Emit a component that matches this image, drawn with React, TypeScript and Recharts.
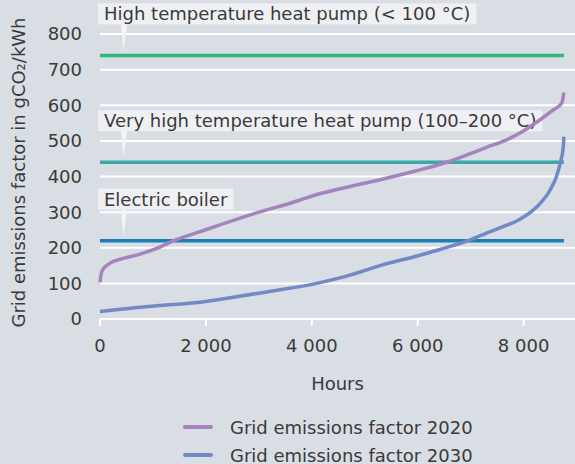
import { useLayoutEffect, useRef, useState } from "react"
import { CartesianGrid, Legend, Line, LineChart, ReferenceLine, XAxis, YAxis } from "recharts"

// hourly grid emission factors, sorted (duration curve)
const hours2020 = [0, 20, 50, 190, 440, 755, 1070, 1380, 1890, 2500, 3000, 3590, 3780, 4020, 4660, 5290, 5920, 6550, 6990, 7300, 7620, 7930, 8250, 8560, 8720, 8760]
const factor2020 = [103, 125, 138, 157, 170, 182, 198, 219, 245, 276, 300, 325, 334, 346, 370, 391, 414, 440, 464, 482, 499, 522, 553, 587, 606, 636]

const hours2030 = [0, 1070, 1890, 2430, 3150, 4090, 4720, 5040, 5290, 5990, 6420, 6990, 7300, 7610, 7930, 8250, 8500, 8620, 8690, 8750, 8760]
const factor2030 = [21, 37, 47, 59, 76, 100, 123, 138, 150, 177, 195, 222, 241, 259, 280, 315, 362, 400, 437, 484, 512]

const seriesNames = ["Grid emissions factor 2020", "Grid emissions factor 2030"]

// break-even emission factors per technology
const technologies = ["High temperature heat pump (< 100 °C)", "Very high temperature heat pump (100–200 °C)", "Electric boiler"]
const thresholds = [740, 440, 220]

const xTicks = [0, 2000, 4000, 6000, 8000]
const yTicks = [0, 100, 200, 300, 400, 500, 600, 700, 800]
const HOURS_IN_YEAR = 8760

const textColor = "#3a3a3a"
const techColors = ["#2fb77a", "#3aa9aa", "#1b7fb6"]
const seriesColors = ["#a583bc", "#7389c5"]
const font = "'DejaVu Sans', 'Open Sans', sans-serif"
const fontSize = 18

const data2020 = hours2020.map((h, i) => ({ h, v: factor2020[i] }))
const data2030 = hours2030.map((h, i) => ({ h, v: factor2030[i] }))

const formatThousands = (v: number) => String(v).replace(/\B(?=(\d{3})+(?!\d))/g, " ")

function ThresholdTag({ viewBox, text }: any) {
  const ref = useRef<SVGTextElement>(null)
  const [w, setW] = useState(0)
  useLayoutEffect(() => {
    if (ref.current) setW(ref.current.getComputedTextLength())
  }, [text])
  if (!viewBox) return null
  const x = viewBox.x
  const y = viewBox.y
  const top = y - 52
  return (
    <g>
      <rect x={x - 2} y={top} width={w + 12} height={21} fill="#eff0f3" />
      <path d={`M${x + 21},${top + 21} L${x + 27},${top + 21} L${x + 23.5},${y - 4} Z`} fill="#f3f4f6" />
      <text ref={ref} x={x + 4} y={top + 17} fill={textColor} fontSize={fontSize} fontFamily={font}>
        {text}
      </text>
    </g>
  )
}

function AxisTitleY({ viewBox }: any) {
  if (!viewBox) return null
  const cx = 18
  const cy = viewBox.y + viewBox.height / 2 - 4
  return (
    <text x={cx} y={cy} transform={`rotate(-90, ${cx}, ${cy})`} textAnchor="middle" dominantBaseline="central" fill={textColor} fontSize={fontSize} fontFamily={font}>
      Grid emissions factor in gCO₂/kWh
    </text>
  )
}

function AxisTitleX({ viewBox }: any) {
  if (!viewBox) return null
  return (
    <text x={viewBox.x + viewBox.width / 2} y={viewBox.y + 64} textAnchor="middle" dominantBaseline="central" fill={textColor} fontSize={fontSize} fontFamily={font}>
      Hours
    </text>
  )
}

function LegendList({ payload }: any) {
  return (
    <div style={{ fontFamily: font, fontSize, color: textColor }}>
      {(payload || []).map((entry: any) => (
        <div key={entry.value} style={{ display: "flex", alignItems: "center", height: 28 }}>
          <span style={{ display: "inline-block", width: 30, height: 4, borderRadius: 2, background: entry.color, marginRight: 17 }} />
          <span>{entry.value}</span>
        </div>
      ))}
    </div>
  )
}

export default function App() {
  return (
    <div style={{ position: "absolute", left: 0, top: 0, width: 575, height: 464, background: "#d9dde4", fontFamily: font }}>
      <LineChart width={575} height={464} margin={{ top: 34, right: 0, bottom: 65, left: 0 }}>
        <CartesianGrid vertical={false} stroke="#ffffff" strokeWidth={2} />
        <XAxis
          type="number"
          dataKey="h"
          domain={[0, 8970]}
          ticks={xTicks}
          tickFormatter={formatThousands}
          height={80}
          axisLine={{ stroke: "#ffffff", strokeWidth: 2 }}
          tickLine={{ stroke: "#ffffff", strokeWidth: 2 }}
          tickSize={7}
          tickMargin={13}
          tick={{ fill: textColor, fontSize, fontFamily: font }}
          label={<AxisTitleX />}
        />
        <YAxis
          type="number"
          domain={[0, 800]}
          ticks={yTicks}
          width={100}
          axisLine={false}
          tickLine={false}
          tickMargin={12}
          tick={{ fill: textColor, fontSize, fontFamily: font }}
          label={<AxisTitleY />}
        />
        {thresholds.map((t, i) => (
          <ReferenceLine
            key={technologies[i]}
            segment={[{ x: 0, y: t }, { x: HOURS_IN_YEAR, y: t }]}
            stroke={techColors[i]}
            strokeWidth={3.5}
            label={<ThresholdTag text={technologies[i]} />}
          />
        ))}
        <Line data={data2020} dataKey="v" name={seriesNames[0]} type="monotone" stroke={seriesColors[0]} strokeWidth={3.5} dot={false} isAnimationActive={false} />
        <Line data={data2030} dataKey="v" name={seriesNames[1]} type="monotone" stroke={seriesColors[1]} strokeWidth={3.5} dot={false} isAnimationActive={false} />
        <Legend layout="vertical" align="center" verticalAlign="middle" wrapperStyle={{ top: 413, left: 183 }} content={<LegendList />} />
      </LineChart>
    </div>
  )
}
